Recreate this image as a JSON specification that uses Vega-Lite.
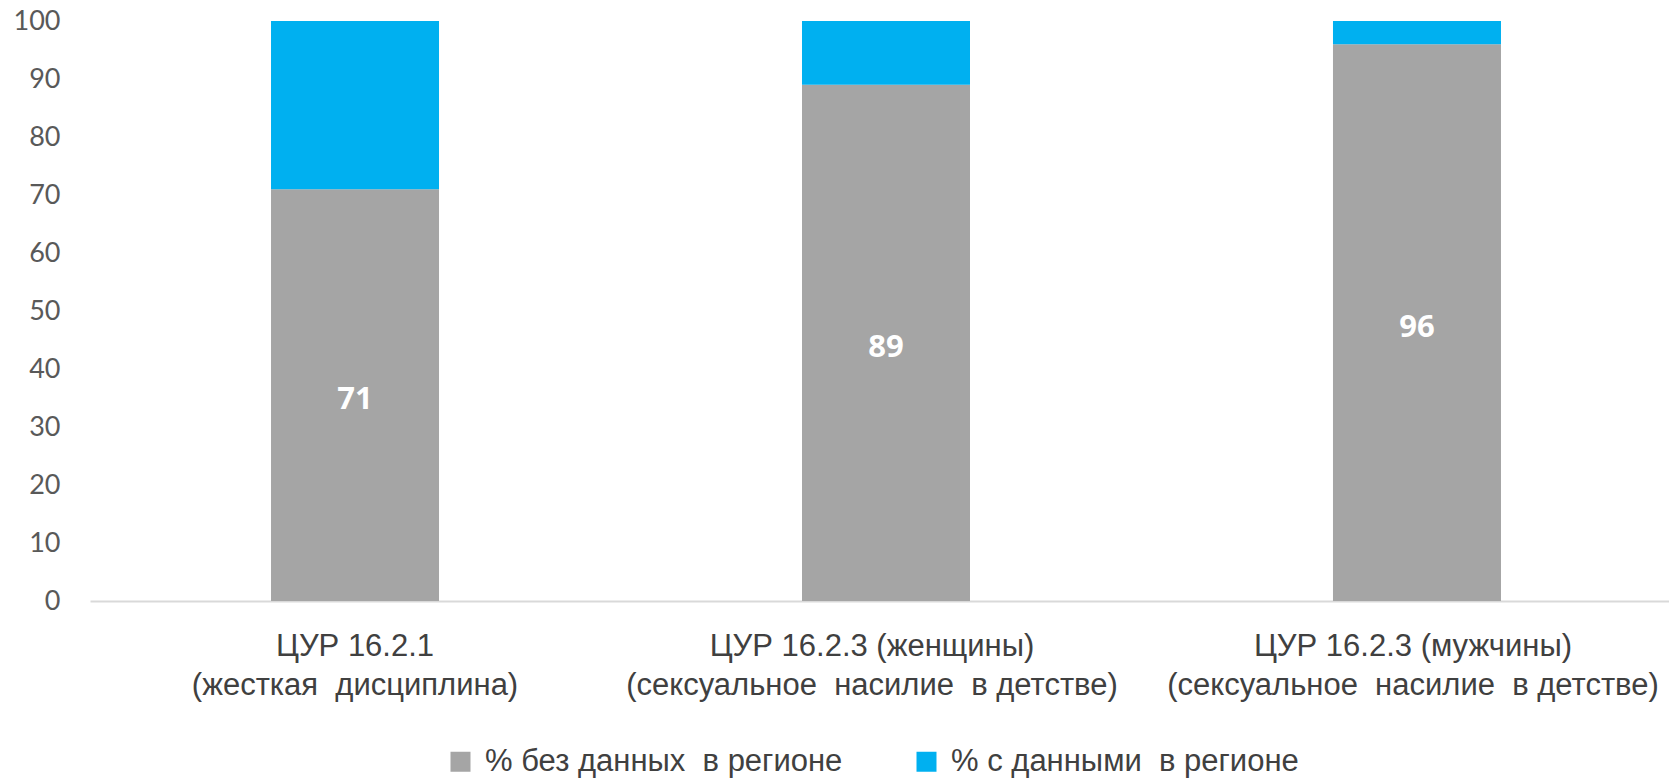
{
  "$schema": "https://vega.github.io/schema/vega-lite/v6.json",
  "autosize": "none",
  "width": 1579,
  "height": 580,
  "padding": {"left": 90, "top": 21, "right": 0, "bottom": 179},
  "background": "white",
  "config": {"view": {"stroke": null}},
  "data": {
    "values": [
      {"cat": "ЦУР 16.2.1\n(жесткая\u00a0 дисциплина)", "series": "% без данных\u00a0 в регионе", "value": 71, "ord": 1},
      {"cat": "ЦУР 16.2.1\n(жесткая\u00a0 дисциплина)", "series": "% с данными\u00a0 в регионе", "value": 29, "ord": 2},
      {"cat": "ЦУР 16.2.3 (женщины)\n(сексуальное\u00a0 насилие\u00a0 в детстве)", "series": "% без данных\u00a0 в регионе", "value": 89, "ord": 1},
      {"cat": "ЦУР 16.2.3 (женщины)\n(сексуальное\u00a0 насилие\u00a0 в детстве)", "series": "% с данными\u00a0 в регионе", "value": 11, "ord": 2},
      {"cat": "ЦУР 16.2.3 (мужчины)\n(сексуальное\u00a0 насилие\u00a0 в детстве)", "series": "% без данных\u00a0 в регионе", "value": 96, "ord": 1},
      {"cat": "ЦУР 16.2.3 (мужчины)\n(сексуальное\u00a0 насилие\u00a0 в детстве)", "series": "% с данными\u00a0 в регионе", "value": 4, "ord": 2}
    ]
  },
  "encoding": {
    "x": {
      "field": "cat",
      "type": "nominal",
      "sort": null,
      "scale": {"range": [0, 1592], "paddingInner": 0.6836, "paddingOuter": 0.3409},
      "axis": {
        "title": null,
        "labelAngle": 0,
        "labelExpr": "split(datum.label, '\\n')",
        "labelFont": "Liberation Sans",
        "labelFontSize": 31,
        "labelColor": "#404040",
        "labelLineHeight": 39,
        "labelPadding": 30,
        "labelLimit": 0,
        "labelOffset": {
          "condition": [
            {"test": "indexof(datum.value, 'женщины') >= 0", "value": -14},
            {"test": "indexof(datum.value, 'мужчины') >= 0", "value": -4}
          ],
          "value": 0
        },
        "ticks": false,
        "domainColor": "#D9D9D9",
        "domainWidth": 2,
        "labelBaseline": "top"
      }
    }
  },
  "resolve": {"scale": {"y": "independent"}},
  "layer": [
    {
      "mark": {"type": "bar"},
      "encoding": {
        "y": {
          "field": "value",
          "type": "quantitative",
          "stack": "zero",
          "scale": {"domain": [0, 100], "nice": false},
          "axis": {
            "title": null,
            "values": [0, 10, 20, 30, 40, 50, 60, 70, 80, 90, 100],
            "grid": false,
            "domain": false,
            "ticks": false,
            "labelFont": "Lato",
            "labelFontSize": 27,
            "labelColor": "#595959",
            "labelPadding": 30
          }
        },
        "color": {
          "field": "series",
          "type": "nominal",
          "scale": {
            "domain": ["% без данных\u00a0 в регионе", "% с данными\u00a0 в регионе"],
            "range": ["#A5A5A5", "#00B0F0"]
          },
          "legend": {
            "title": null,
            "orient": "none",
            "direction": "horizontal",
            "legendX": 355,
            "legendY": 725,
            "symbolType": "square",
            "symbolSize": 400,
            "symbolStrokeWidth": 0,
            "labelFont": "Liberation Sans",
            "labelFontSize": 31,
            "labelColor": "#404040",
            "labelOffset": 9,
            "labelLimit": 0,
            "columnPadding": 68
          }
        },
        "order": {"field": "ord", "type": "quantitative"}
      }
    },
    {
      "transform": [{"filter": "datum.ord == 1"}],
      "mark": {
        "type": "text",
        "font": "Open Sans",
        "fontWeight": "bold",
        "fontSize": 31,
        "color": "white",
        "baseline": "middle",
        "dy": 5
      },
      "encoding": {
        "y": {
          "field": "value",
          "type": "quantitative",
          "stack": null,
          "scale": {"domain": [0, 200], "nice": false},
          "axis": null
        },
        "text": {"field": "value", "type": "quantitative"}
      }
    }
  ]
}
